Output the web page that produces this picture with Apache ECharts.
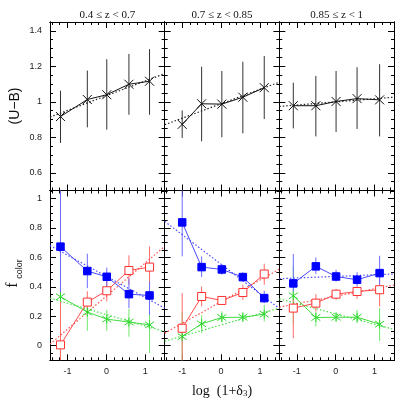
<!DOCTYPE html>
<html>
<head>
<meta charset="utf-8">
<script src="https://cdn.jsdelivr.net/npm/echarts@6/dist/echarts.min.js"></script>
<style>
html, body { margin: 0; padding: 0; background: #fff; }
#main { width: 403px; height: 403px; }
</style>
</head>
<body>
<div id="main"></div>
<script>
// axis ranges
var xRange = [-1.45, 1.5];
var ubRange = [0.5, 1.45];
var fRange = [-0.1, 1.055];

var panelTitles = ["0.4 \u2264 z < 0.7", "0.7 \u2264 z < 0.85", "0.85 \u2264 z < 1"];

// log(1+delta3) bin positions per redshift column
var xCol1 = [-1.18, -0.49, 0.01, 0.58, 1.11];
var xCol2 = [-1.0, -0.5, 0.02, 0.56, 1.11];
var xCol3 = [-1.09, -0.51, 0.01, 0.55, 1.13];

// (U-B) top row
var ub1 = [0.917, 1.013, 1.04, 1.099, 1.116];
var ub1Lo = [0.768, 0.856, 0.843, 0.927, 0.927];
var ub1Hi = [1.063, 1.176, 1.24, 1.27, 1.297];
var ub2 = [0.873, 0.989, 0.987, 1.026, 1.08];
var ub2Lo = [0.796, 0.777, 0.8, 0.822, 0.903];
var ub2Hi = [0.951, 1.198, 1.174, 1.226, 1.258];
var ub3 = [0.978, 0.978, 1.002, 1.018, 1.011];
var ub3Lo = [0.85, 0.805, 0.83, 0.847, 0.805];
var ub3Hi = [1.108, 1.146, 1.174, 1.195, 1.212];
// dotted fits, values at xRange ends
var ubFit1 = [0.914, 1.159];
var ubFit2 = [0.871, 1.111];
var ubFit3 = [0.974, 1.026];

// f_color bottom row: blue
var blue1 = [0.673, 0.507, 0.468, 0.35, 0.341];
var blue1Lo = [0.33, 0.391, 0.4, 0.255, 0.209];
var blue1Hi = [1.2, 0.625, 0.53, 0.455, 0.436];
var blue2 = [0.838, 0.534, 0.518, 0.466, 0.323];
var blue2Lo = [0.607, 0.466, 0.482, 0.436, 0.289];
var blue2Hi = [1.2, 0.607, 0.555, 0.5, 0.373];
var blue3 = [0.423, 0.539, 0.47, 0.448, 0.493];
var blue3Lo = [0.368, 0.487, 0.436, 0.402, 0.414];
var blue3Hi = [0.623, 0.6, 0.516, 0.5, 0.611];
// red
var red1 = [0.005, 0.296, 0.373, 0.511, 0.534];
var red1Lo = [-0.3, 0.21, 0.3, 0.414, 0.414];
var red1Hi = [0.414, 0.37, 0.448, 0.614, 0.675];
var red2 = [0.118, 0.334, 0.307, 0.361, 0.487];
var red2Lo = [-0.3, 0.266, 0.277, 0.311, 0.414];
var red2Hi = [0.357, 0.402, 0.334, 0.414, 0.557];
var red3 = [0.255, 0.289, 0.35, 0.368, 0.38];
var red3Lo = [0.05, 0.232, 0.311, 0.318, 0.266];
var red3Hi = [0.32, 0.35, 0.386, 0.402, 0.493];
// green
var green1 = [0.332, 0.228, 0.18, 0.16, 0.141];
var green1Lo = [-0.06, 0.1, 0.1, 0.06, -0.05];
var green1Hi = [0.743, 0.31, 0.243, 0.25, 0.22];
var green2 = [0.061, 0.148, 0.191, 0.193, 0.214];
var green2Lo = [-0.3, 0.085, 0.16, 0.164, 0.164];
var green2Hi = [0.232, 0.205, 0.232, 0.225, 0.277];
var green3 = [0.339, 0.191, 0.193, 0.193, 0.146];
var green3Lo = [0.141, 0.13, 0.164, 0.153, 0.032];
var green3Hi = [0.543, 0.232, 0.225, 0.243, 0.255];
// dotted fits
var blueFit1 = [0.68, 0.255], redFit1 = [0.01, 0.675], greenFit1 = [0.323, 0.095];
var blueFit2 = [0.845, 0.252], redFit2 = [0.085, 0.52], greenFit2 = [0.03, 0.255];
var blueFit3 = [0.455, 0.487], redFit3 = [0.262, 0.412], greenFit3 = [0.318, 0.11];

var colLeft = [50, 164.7, 279.3];
var colW = 114.7;
var rowTop = [22, 190.5];
var rowH = [168.5, 169.8];

var LABEL_FONT = "Liberation Sans";
var SERIF = "Liberation Serif";

var myChart = echarts.init(document.getElementById("main"));

var grids = [], xAxes = [], yAxes = [], series = [];

function makeAxis(kind, g, pos, range, major, split, showLabel) {
  return {
    type: "value",
    gridIndex: g,
    position: pos,
    min: range[0],
    max: range[1],
    splitNumber: split,
    axisLine: { show: true, onZero: false, lineStyle: { color: "#000", width: 1 } },
    axisTick: { show: true, inside: true, length: major ? 6 : 3, lineStyle: { color: "#000", width: 1 } },
    axisLabel: {
      show: showLabel,
      showMinLabel: false,
      showMaxLabel: false,
      color: "#222",
      fontSize: 9,
      fontFamily: LABEL_FONT,
      margin: kind == "x" ? 7 : 8
    },
    splitLine: { show: false }
  };
}

// main grids 0..5 carry the data and major ticks, grids 6..11 sit on top with minor ticks
for (var pass = 0; pass < 2; pass++) {
  for (var r = 0; r < 2; r++) {
    for (var c = 0; c < 3; c++) {
      var g = pass * 6 + r * 3 + c;
      var major = pass == 0;
      grids.push({ left: colLeft[c], top: rowTop[r], width: colW, height: rowH[r], containLabel: false });
      var yr = r == 0 ? ubRange : fRange;
      var ySplit = major ? (r == 0 ? 5 : 6) : (r == 0 ? 19 : 23);
      var xSplit = major ? 3 : 15;
      xAxes.push(makeAxis("x", g, "bottom", xRange, major, xSplit, major && r == 1));
      xAxes.push(makeAxis("x", g, "top", xRange, major, xSplit, false));
      yAxes.push(makeAxis("y", g, "left", yr, major, ySplit, major && c == 0));
      yAxes.push(makeAxis("y", g, "right", yr, major, ySplit, false));
    }
  }
}

function errSeries(g, xs, lo, hi, color) {
  return {
    type: "custom",
    xAxisIndex: 2 * g,
    yAxisIndex: 2 * g,
    silent: true,
    z: 2,
    data: xs.map(function(x, i) { return [x, lo[i], hi[i]]; }),
    renderItem: function(params, api) {
      var p1 = api.coord([api.value(0), api.value(1)]);
      var p2 = api.coord([api.value(0), api.value(2)]);
      var cs = params.coordSys;
      var y1 = Math.min(Math.max(p1[1], cs.y), cs.y + cs.height);
      var y2 = Math.min(Math.max(p2[1], cs.y), cs.y + cs.height);
      return {
        type: "line",
        shape: { x1: p1[0], y1: y1, x2: p2[0], y2: y2 },
        style: { stroke: color, lineWidth: 1 }
      };
    }
  };
}

function pointSeries(g, xs, ys, symbol, size, lineColor, fill, border) {
  return {
    type: "line",
    xAxisIndex: 2 * g,
    yAxisIndex: 2 * g,
    data: xs.map(function(x, i) { return [x, ys[i]]; }),
    symbol: symbol,
    symbolSize: size,
    showSymbol: true,
    z: 4,
    lineStyle: { color: lineColor, width: 1 },
    itemStyle: { color: fill, borderColor: border, borderWidth: 1 }
  };
}

function fitSeries(g, ends, color) {
  return {
    type: "line",
    xAxisIndex: 2 * g,
    yAxisIndex: 2 * g,
    data: [[xRange[0], ends[0]], [xRange[1], ends[1]]],
    symbol: "none",
    z: 3,
    lineStyle: { color: color, width: 1.2, type: [1.5, 2] }
  };
}

var X_SYM = "path://M0,0L10,10M10,0L0,10";
var STAR_SYM = "path://M0,1.5L10,8.5M10,1.5L0,8.5M5,0L5,10";

var xCols = [xCol1, xCol2, xCol3];
var ubs = [[ub1, ub1Lo, ub1Hi, ubFit1], [ub2, ub2Lo, ub2Hi, ubFit2], [ub3, ub3Lo, ub3Hi, ubFit3]];
var blues = [[blue1, blue1Lo, blue1Hi, blueFit1], [blue2, blue2Lo, blue2Hi, blueFit2], [blue3, blue3Lo, blue3Hi, blueFit3]];
var reds = [[red1, red1Lo, red1Hi, redFit1], [red2, red2Lo, red2Hi, redFit2], [red3, red3Lo, red3Hi, redFit3]];
var greens = [[green1, green1Lo, green1Hi, greenFit1], [green2, green2Lo, green2Hi, greenFit2], [green3, green3Lo, green3Hi, greenFit3]];

for (var c = 0; c < 3; c++) {
  var xs = xCols[c];
  // top row
  series.push(errSeries(c, xs, ubs[c][1], ubs[c][2], "#333"));
  series.push(fitSeries(c, ubs[c][3], "#222"));
  series.push(pointSeries(c, xs, ubs[c][0], X_SYM, 9, "#111", "none", "#111"));
  // bottom row
  var g = c + 3;
  series.push(errSeries(g, xs, greens[c][1], greens[c][2], "#6fe86f"));
  series.push(errSeries(g, xs, reds[c][1], reds[c][2], "#ff6b6b"));
  series.push(errSeries(g, xs, blues[c][1], blues[c][2], "#6b6bff"));
  series.push(fitSeries(g, greens[c][3], "#44e044"));
  series.push(fitSeries(g, reds[c][3], "#ff5050"));
  series.push(fitSeries(g, blues[c][3], "#4a4aff"));
  series.push(pointSeries(g, xs, greens[c][0], STAR_SYM, 9, "#3fdc3f", "none", "#2fd82f"));
  series.push(pointSeries(g, xs, reds[c][0], "rect", 8, "#ff4a4a", "#fff", "#ff3030"));
  series.push(pointSeries(g, xs, blues[c][0], "rect", 7.5, "#4a4aff", "#0000ff", "#0000ff"));
}

var graphics = [];
for (var c = 0; c < 3; c++) {
  graphics.push({
    type: "text",
    x: colLeft[c] + colW / 2,
    y: 15,
    style: { text: panelTitles[c], fontFamily: SERIF, fontSize: 11, fill: "#111", align: "center", verticalAlign: "middle" }
  });
}
graphics.push({
  type: "text", x: 15, y: 106, rotation: Math.PI / 2,
  style: { text: "(U\u2212B)", fontFamily: LABEL_FONT, fontSize: 14, fill: "#111", align: "center", verticalAlign: "middle" }
});
graphics.push({
  type: "text", x: 13, y: 285, rotation: Math.PI / 2,
  style: { text: "f", fontFamily: SERIF, fontSize: 16, fill: "#111", align: "center", verticalAlign: "middle" }
});
graphics.push({
  type: "text", x: 20, y: 269, rotation: Math.PI / 2,
  style: { text: "color", fontFamily: LABEL_FONT, fontSize: 9, fill: "#111", align: "center", verticalAlign: "middle" }
});
graphics.push({
  type: "text", x: 222, y: 391,
  style: {
    text: "{a|log  (1+\u03b4}{b|3}{a|)}",
    rich: {
      a: { fontFamily: SERIF, fontSize: 14, fill: "#111" },
      b: { fontFamily: SERIF, fontSize: 9, fill: "#111", padding: [6, 0, 0, 0] }
    },
    align: "center", verticalAlign: "middle"
  }
});

var option = {
  animation: false,
  backgroundColor: "#fff",
  grid: grids,
  xAxis: xAxes,
  yAxis: yAxes,
  series: series,
  graphic: graphics
};

myChart.setOption(option);
</script>
</body>
</html>
